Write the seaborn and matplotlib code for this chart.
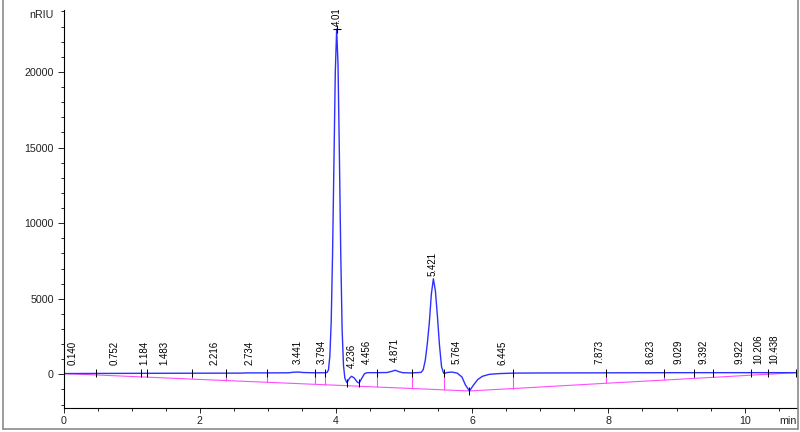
import matplotlib
matplotlib.use("Agg")
import matplotlib.pyplot as plt
from matplotlib.lines import Line2D
from matplotlib.ticker import MultipleLocator
import pandas as pd
import seaborn as sns

sns.set_style("ticks")
plt.rcParams['font.family'] = ['Liberation Sans', 'DejaVu Sans']

# detector trace (min, nRIU)
time_min = [0.00, 0.30, 0.60, 1.00, 1.50, 2.00, 2.60, 2.70, 3.00, 3.30, 3.38, 3.45, 3.52,
            3.70, 3.84, 3.87, 3.89, 3.91, 3.93, 3.95, 3.97, 3.99, 4.01, 4.03, 4.05, 4.07,
            4.09, 4.11, 4.13, 4.16, 4.20, 4.23, 4.27, 4.31, 4.34, 4.38, 4.42, 4.46, 4.60,
            4.75, 4.82, 4.87, 4.92, 4.98, 5.11, 5.25, 5.28, 5.31, 5.34, 5.37, 5.40, 5.43,
            5.46, 5.49, 5.52, 5.55, 5.58, 5.59, 5.63, 5.70, 5.78, 5.85, 5.90, 5.96, 6.02,
            6.08, 6.15, 6.25, 6.40, 6.60, 7.00, 8.00, 9.00, 10.00, 10.77]
signal = [50, 55, 60, 65, 70, 75, 80, 95, 95, 100, 140, 150, 120,
          100, 105, 130, 300, 1200, 3500, 8000, 14000, 20000, 22830, 20500, 14500, 8000,
          3000, 600, -250, -550, -250, -130, -250, -500, -580, -250, 50, 110, 110,
          120, 200, 270, 180, 110, 90, 130, 300, 900, 2000, 3400, 5300, 6320,
          5500, 3800, 1900, 500, 80, 60, 120, 150, 80, -180, -700, -1100, -700,
          -350, -130, 0, 50, 80, 90, 100, 110, 110, 110]

# integration results
peak_rt = [0.140, 0.752, 1.184, 1.483, 2.216, 2.734, 3.441, 3.794, 4.010, 4.236, 4.456,
           4.871, 5.421, 5.764, 6.445, 7.873, 8.623, 9.029, 9.392, 9.922, 10.206, 10.438]
peak_top = [50, 60, 70, 75, 80, 90, 150, 100, 22830, -130, 110,
            270, 6320, 100, 60, 100, 105, 110, 110, 110, 110, 110]

# peak start/stop events and the drawn baseline
cut_time = [0.47, 1.14, 1.22, 1.88, 2.38, 2.98, 3.69, 3.84, 4.16, 4.34, 4.60,
            5.11, 5.59, 5.96, 6.60, 7.97, 8.82, 9.25, 9.53, 10.10, 10.34, 10.75]
cut_signal = [58, 67, 68, 74, 78, 95, 100, 105, -550, -580, 110,
              90, 60, -1100, 80, 100, 105, 110, 110, 110, 110, 110]
base_time = [0.00] + cut_time
base_value = [50, -40, -170, -185, -315, -410, -525, -660, -690, -750, -790, -840,
              -935, -1030, -1100, -940, -590, -380, -270, -200, -55, 5, 110]

trace_color = '#2f2fff'
base_color = '#ff4cff'
text_color = '#222222'

trace = pd.DataFrame({"time": time_min, "signal": signal})
base = pd.DataFrame({"time": base_time, "value": base_value})

fig = plt.figure(figsize=(8, 4.32), dpi=100)
ax = fig.add_axes([0.0794, 0.0544, 0.917, 0.9225])

sns.lineplot(data=base, x="time", y="value", estimator=None, color=base_color,
             linewidth=0.8, ax=ax)
ax.vlines(cut_time, base_value[1:], cut_signal, colors=base_color, linewidth=0.8)
sns.lineplot(data=trace, x="time", y="signal", estimator=None, color=trace_color,
             linewidth=1.0, ax=ax)
ax.plot(cut_time, cut_signal, ls='none', marker='|', ms=6, mew=0.7, color='black')
ax.plot([peak_rt[8]], [peak_top[8]], ls='none', marker='+', ms=6, mew=0.8, color='black')

# retention time labels
for rt, top in zip(peak_rt, peak_top):
    off = 2 if top > 1000 else 6
    ax.annotate(f"{rt:.3f}", xy=(rt, top), xytext=(0, off), textcoords='offset points',
                rotation=90, ha='center', va='bottom', fontsize=7,
                color='black', annotation_clip=False, clip_on=True)

ax.set_xlim(0, 10.77)
ax.set_ylim(-2260, 24100)
ax.set_xlabel("")
ax.set_ylabel("")
ax.xaxis.set_major_locator(MultipleLocator(2))
ax.xaxis.set_minor_locator(MultipleLocator(0.5))
ax.yaxis.set_major_locator(MultipleLocator(5000))
ax.yaxis.set_minor_locator(MultipleLocator(1000))
ax.tick_params(axis='y', which='major', length=4.3, width=0.7, pad=2.8,
               labelsize=7.7, labelcolor=text_color, left=True)
ax.tick_params(axis='y', which='minor', length=2, width=0.7, left=True)
ax.tick_params(axis='x', which='major', length=3.6, width=0.7, pad=2,
               labelsize=7.7, labelcolor=text_color, bottom=True)
ax.tick_params(axis='x', which='minor', length=1.8, width=0.7, bottom=True)
sns.despine(ax=ax)
for side in ['left', 'bottom']:
    ax.spines[side].set_color('black')
    ax.spines[side].set_linewidth(0.8)

ax.annotate("nRIU", xy=(0, 24000), xycoords=('axes fraction', 'data'),
            xytext=(-7.4, -2.5), textcoords='offset points', ha='right', va='center',
            fontsize=7.7, color=text_color, annotation_clip=False)
ax.annotate("min", xy=(1.0, 0), xycoords='axes fraction', xytext=(-0.5, -5.6),
            textcoords='offset points', ha='right', va='top', fontsize=7.7,
            color=text_color, annotation_clip=False)

# window frame
frame = dict(transform=fig.transFigure, color='#8a8a8a', linewidth=1.2)
fig.add_artist(Line2D([0.004, 0.004], [0.007, 1.0], **frame))
fig.add_artist(Line2D([0.004, 0.997], [0.007, 0.007], **frame))
fig.add_artist(Line2D([0.997, 0.997], [0.007, 1.0], **frame))

fig.savefig("out.png", dpi=100, facecolor='white')
